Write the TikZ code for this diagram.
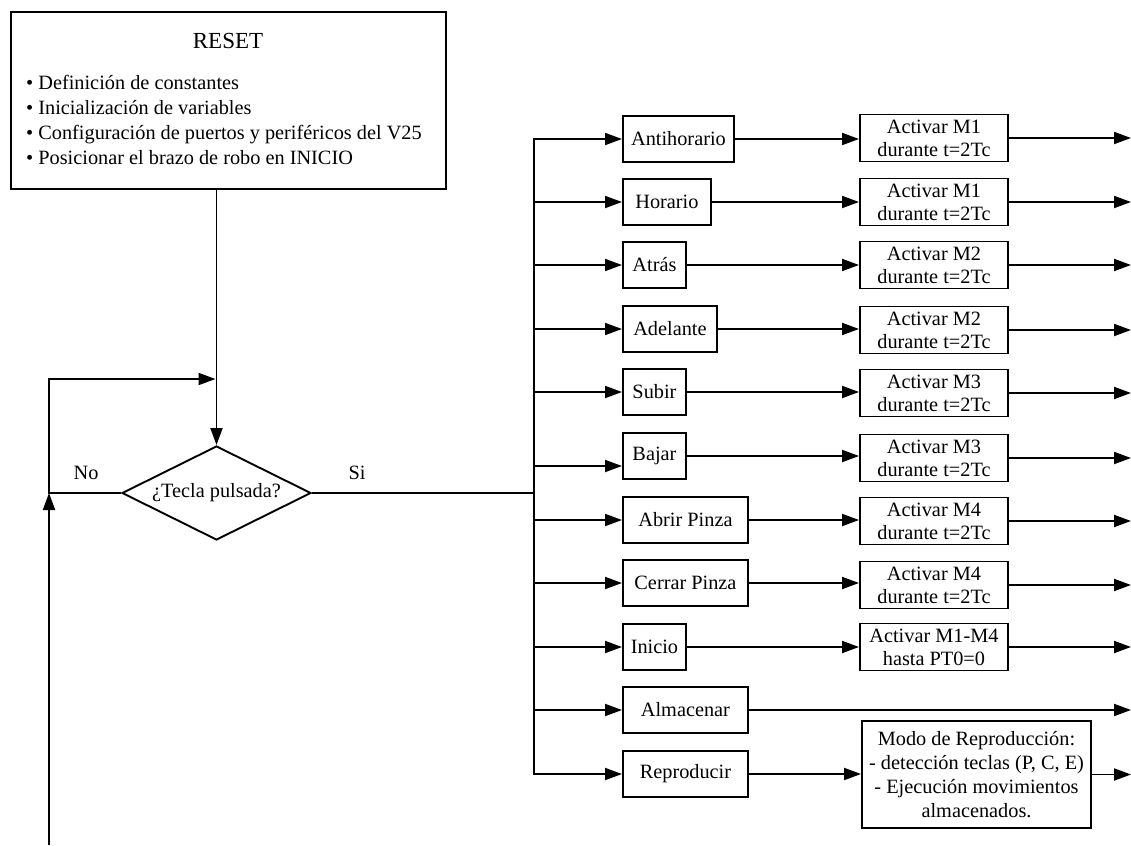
\documentclass[tikz,border=0pt]{standalone}
\usepackage{fontspec}
\setmainfont{Liberation Serif}
\usetikzlibrary{arrows.meta,shapes.geometric}
\begin{document}
\begin{tikzpicture}[x=1pt,y=-1pt,
  every node/.style={font=\fontsize{20.3}{23}\selectfont, text=black},
  keybox/.style={draw, line width=1.9pt, minimum height=46pt, inner sep=2pt, anchor=west},
  actbox/.style={draw, line width=1.9pt, minimum width=148pt, minimum height=47pt, inner sep=1pt, align=center, anchor=west},
  line/.style={line width=1.9pt},
  arr/.style={line width=1.9pt, -{Triangle[length=17pt,width=12pt]}},
]
\useasboundingbox (0,0) rectangle (1131,845);

% RESET block
\node[draw, line width=1.9pt, minimum width=435pt, minimum height=177pt, anchor=north west, inner sep=0pt] (reset) at (10,11) {};
\node[font=\fontsize{23}{27}\selectfont, inner sep=0pt] (title) at (228,41) {RESET};
\node[anchor=west, align=left, inner sep=0pt, font=\fontsize{20.3}{24.7}\selectfont] (list) at (26,120)
  {• Definición de constantes\\• Inicialización de variables\\• Configuración de puertos y periféricos del V25\\• Posicionar el brazo de robo en INICIO};

% decision
\node[diamond, draw, line width=1.9pt, aspect=2, minimum width=189pt, minimum height=94pt, inner sep=0pt] (dec) at (216.5,493) {\raisebox{-3pt}{¿Tecla pulsada?}};
\node (no) at (86,473) {No};
\node (si) at (357,473) {Si};

% key boxes
\node[keybox, minimum width=111pt] (k1) at (622,139) {Antihorario};
\node[keybox, minimum width=88pt] (k2) at (622,202) {Horario};
\node[keybox, minimum width=63pt] (k3) at (622,265) {Atrás};
\node[keybox, minimum width=94pt] (k4) at (622,329) {Adelante};
\node[keybox, minimum width=63pt] (k5) at (622,392) {Subir};
\node[keybox, minimum width=63pt] (k6) at (622,456) {Bajar};
\node[keybox, minimum width=125pt] (k7) at (622,520) {Abrir Pinza};
\node[keybox, minimum width=125pt] (k8) at (622,583) {Cerrar Pinza};
\node[keybox, minimum width=63pt] (k9) at (622,647) {Inicio};
\node[keybox, minimum width=125pt] (k10) at (622,710) {Almacenar};
\node[keybox, minimum width=125pt] (k11) at (622,774) {Reproducir};

% action boxes
\node[actbox] (a1) at (859,138) {Activar M1\\durante t=2Tc};
\node[actbox] (a2) at (859,202) {Activar M1\\durante t=2Tc};
\node[actbox] (a3) at (859,265) {Activar M2\\durante t=2Tc};
\node[actbox] (a4) at (859,330) {Activar M2\\durante t=2Tc};
\node[actbox] (a5) at (859,393) {Activar M3\\durante t=2Tc};
\node[actbox] (a6) at (859,458) {Activar M3\\durante t=2Tc};
\node[actbox] (a7) at (859,521) {Activar M4\\durante t=2Tc};
\node[actbox] (a8) at (859,585) {Activar M4\\durante t=2Tc};
\node[actbox] (a9) at (859,647) {Activar M1-M4\\hasta PT0=0};
\node[draw, line width=1.9pt, minimum width=229pt, minimum height=107pt, inner sep=2pt, align=center, font=\fontsize{20.3}{24}\selectfont] (modo) at (976.5,774.5)
  {Modo de Reproducción:\\- detección teclas (P, C, E)\\- Ejecución movimientos\\almacenados.};

% coordinates
\coordinate (bustop) at (534,139);
\coordinate (busbot) at (534,774);
\coordinate (redge) at (1131,0);
\coordinate (loopbot) at (49,845);
\coordinate (loopcorner) at (49,379);
\coordinate (loopjoin) at (215.5,379);
\coordinate (k6in) at ([yshift=-10pt]k6.west);

% main flow
\draw[arr] (reset.south -| dec.north) -- (dec.north);
\draw[arr] (dec.west) -- (dec.west -| loopbot) -- (loopcorner) -- (loopjoin);
\draw[arr] (loopbot) -- (dec.west -| loopbot);
\draw[line] (dec.east) -- (dec.east -| bustop);
\draw[line, line cap=rect] (bustop) -- (busbot);

% bus to keys
\draw[arr] (k1.west -| bustop) -- (k1.west);
\draw[arr] (k2.west -| bustop) -- (k2.west);
\draw[arr] (k3.west -| bustop) -- (k3.west);
\draw[arr] (k4.west -| bustop) -- (k4.west);
\draw[arr] (k5.west -| bustop) -- (k5.west);
\draw[arr] (k6in -| bustop) -- (k6in);
\draw[arr] (k7.west -| bustop) -- (k7.west);
\draw[arr] (k8.west -| bustop) -- (k8.west);
\draw[arr] (k9.west -| bustop) -- (k9.west);
\draw[arr] (k10.west -| bustop) -- (k10.west);
\draw[arr] (k11.west -| bustop) -- (k11.west);

% keys to actions
\draw[arr] (k1.east) -- (k1.east -| a1.west);
\draw[arr] (k2.east) -- (k2.east -| a2.west);
\draw[arr] (k3.east) -- (k3.east -| a3.west);
\draw[arr] (k4.east) -- (k4.east -| a4.west);
\draw[arr] (k5.east) -- (k5.east -| a5.west);
\draw[arr] (k6.east) -- (k6.east -| a6.west);
\draw[arr] (k7.east) -- (k7.east -| a7.west);
\draw[arr] (k8.east) -- (k8.east -| a8.west);
\draw[arr] (k9.east) -- (k9.east -| a9.west);
\draw[arr] (k11.east) -- (k11.east -| modo.west);

% outputs
\draw[arr] (a1.east) -- (a1.east -| redge);
\draw[arr] (a2.east) -- (a2.east -| redge);
\draw[arr] (a3.east) -- (a3.east -| redge);
\draw[arr] (a4.east) -- (a4.east -| redge);
\draw[arr] (a5.east) -- (a5.east -| redge);
\draw[arr] (a6.east) -- (a6.east -| redge);
\draw[arr] (a7.east) -- (a7.east -| redge);
\draw[arr] (a8.east) -- (a8.east -| redge);
\draw[arr] (a9.east) -- (a9.east -| redge);
\draw[arr] (k10.east) -- (k10.east -| redge);
\draw[arr] (modo.east) -- (modo.east -| redge);
\end{tikzpicture}
\end{document}
